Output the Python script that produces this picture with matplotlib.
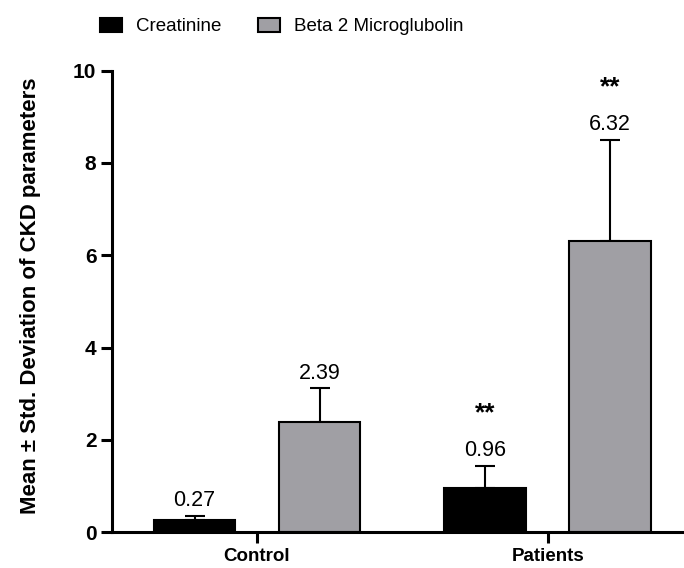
import matplotlib
matplotlib.use("Agg")
import matplotlib.pyplot as plt
from matplotlib.patches import Patch
import numpy as np

categories = ['Control', 'Patients']
series_names = ['Creatinine', 'Beta 2 Microglubolin']
creatinine_mean = [0.27, 0.96]
creatinine_sd = [0.09, 0.48]
b2m_mean = [2.39, 6.32]
b2m_sd = [0.73, 2.18]
creatinine_labels = ['0.27', '0.96']
b2m_labels = ['2.39', '6.32']
creatinine_sig = ['', '**']
b2m_sig = ['', '**']
yticks = [0, 2, 4, 6, 8, 10]

plt.rcParams['font.family'] = ['Liberation Sans', 'DejaVu Sans']

fig = plt.figure(figsize=(6.84, 5.68), dpi=100)
ax = fig.add_axes([0.1633, 0.0629, 0.8367, 0.8127])

x = np.arange(len(categories))
width = 0.28
off = 0.215
colors = ['#000000', '#a09fa4']
means = [creatinine_mean, b2m_mean]
sds = [creatinine_sd, b2m_sd]
labels = [creatinine_labels, b2m_labels]
sigs = [creatinine_sig, b2m_sig]

for i, (m, s, c) in enumerate(zip(means, sds, colors)):
    pos = x + (-off if i == 0 else off)
    ax.errorbar(pos, m, yerr=[np.zeros(len(m)), s], fmt='none', ecolor='black',
                elinewidth=1.5, capsize=7.2, capthick=1.5, zorder=1)
    ax.bar(pos, m, width=width, color=c, edgecolor='black', linewidth=1.5, zorder=2)
    for p, mv, sv, lab, sg in zip(pos, m, s, labels[i], sigs[i]):
        ax.annotate(lab, (p, mv + sv), xytext=(0, 7), textcoords='offset points',
                    ha='center', va='baseline', fontsize=15.5)
        if sg:
            ax.annotate(sg, (p, mv + sv), xytext=(0, 33), textcoords='offset points',
                        ha='center', va='baseline', fontsize=19, fontweight='bold')

ax.set_xlim(-0.5, 1.469)
ax.set_ylim(0, 10)
ax.set_yticks(yticks)
ax.set_yticklabels([str(t) for t in yticks], fontsize=15, fontweight='bold')
ax.set_xticks(x)
ax.set_xticklabels(categories, fontsize=13.5, fontweight='bold')
for sp in ['top', 'right']:
    ax.spines[sp].set_visible(False)
for sp in ['left', 'bottom']:
    ax.spines[sp].set_linewidth(2.2)
ax.tick_params(axis='both', direction='out', length=8, width=2.2, pad=3)
ax.set_ylabel('Mean ± Std. Deviation of CKD parameters', fontsize=16,
              fontweight='bold')
ax.yaxis.set_label_coords(-0.123, 0.512)

handles = [Patch(facecolor=c, edgecolor='black', linewidth=1.5) for c in colors]
fig.legend(handles, series_names, loc='center', bbox_to_anchor=(0.412, 0.953),
           ncol=2, frameon=False, handlelength=1.17, handleheight=0.75,
           handletextpad=0.75, columnspacing=2.0,
           prop={'size': 13.5})

fig.savefig('out.png', dpi=100)
